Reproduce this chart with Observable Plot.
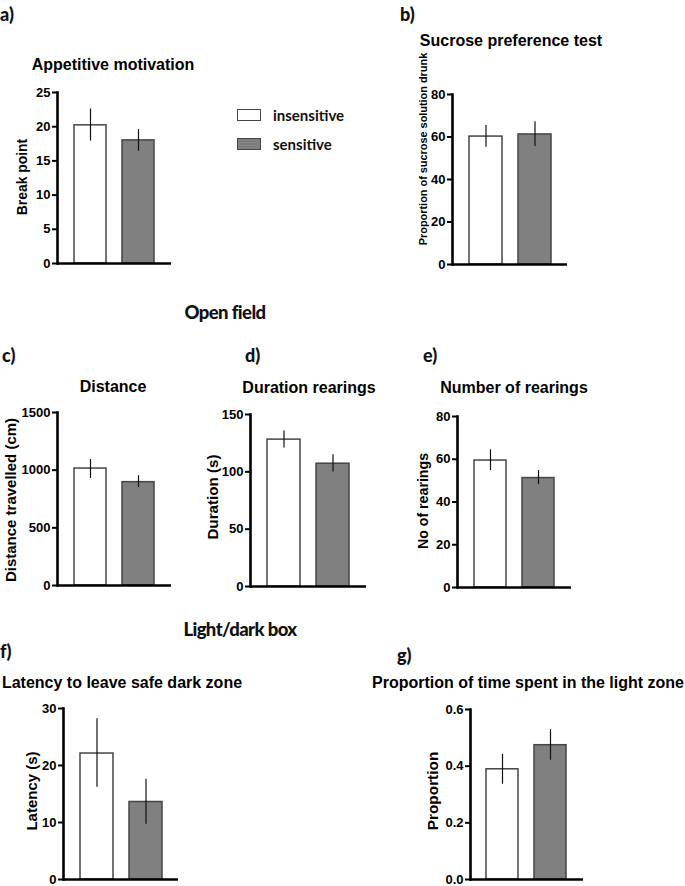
<!DOCTYPE html>
<html><head><meta charset="utf-8">
<script src="https://cdn.jsdelivr.net/npm/d3@7"></script>
<script src="https://cdn.jsdelivr.net/npm/@observablehq/plot@0.6"></script>
<style>
html,body{margin:0;padding:0;background:#fff;}
#fig{position:relative;width:685px;height:886px;overflow:hidden;font-family:"Liberation Sans",Arial,sans-serif;color:#000;}
#fig svg text{font-family:"Liberation Sans",Arial,sans-serif !important;font-weight:700 !important;font-size:13px !important;fill:#000;}
.abs{position:absolute;white-space:nowrap;line-height:1;}
.title{font-weight:bold;transform:translate(-50%,-50%);}
.ylab{font-weight:bold;transform:translate(-50%,-50%) rotate(-90deg);}
.cal{font-family:Lato,"Open Sans",sans-serif;font-weight:900;color:#111;}
.sw{position:absolute;box-sizing:border-box;border:1.5px solid #444;}
</style></head><body><div id="fig"></div>
<script>
// ---- data ----
const groups = ["insensitive", "sensitive"];
const groupFills = ["#ffffff", "#808080"];

const appetitiveMean = [20.2, 18.0];
const appetitiveLow  = [17.9, 16.4];
const appetitiveHigh = [22.6, 19.6];
const appetitiveTicks = [0, 5, 10, 15, 20, 25];

const sucroseMean = [60.2, 61.2];
const sucroseLow  = [55.2, 55.5];
const sucroseHigh = [65.4, 67.2];
const sucroseTicks = [0, 20, 40, 60, 80];

const distanceMean = [1014, 896];
const distanceLow  = [928, 850];
const distanceHigh = [1092, 952];
const distanceTicks = [0, 500, 1000, 1500];

const durationMean = [128.1, 107.1];
const durationLow  = [120.8, 99.8];
const durationHigh = [135.7, 115.0];
const durationTicks = [0, 50, 100, 150];

const rearingsMean = [59.4, 51.2];
const rearingsLow  = [54.7, 48.1];
const rearingsHigh = [64.4, 54.7];
const rearingsTicks = [0, 20, 40, 60, 80];

const latencyMean = [22.1, 13.6];
const latencyLow  = [16.2, 9.7];
const latencyHigh = [28.2, 17.6];
const latencyTicks = [0, 10, 20, 30];

const lightMean = [0.389, 0.474];
const lightLow  = [0.336, 0.421];
const lightHigh = [0.442, 0.529];
const lightTicks = [0, 0.2, 0.4, 0.6];

const panelLetters = ["a)", "b)", "c)", "d)", "e)", "f)", "g)"];
const panelTitles = ["Appetitive motivation", "Sucrose preference test", "Distance",
  "Duration rearings", "Number of rearings", "Latency to leave safe dark zone",
  "Proportion of time spent in the light zone"];
const yLabels = ["Break point", "Proportion of sucrose solution drunk", "Distance travelled (cm)",
  "Duration (s)", "No of rearings", "Latency (s)", "Proportion"];
const sectionHeadings = ["Open field", "Light/dark box"];

// ---- layout ----
const fig = document.getElementById("fig");
function addText(txt, cls, x, y, size, extra) {
  const d = document.createElement("div");
  d.className = "abs " + cls;
  d.textContent = txt;
  d.style.left = x + "px"; d.style.top = y + "px"; d.style.fontSize = size + "px";
  if (extra) Object.assign(d.style, extra);
  fig.appendChild(d);
  return d;
}

const intFmt = d3.format("d");
const panels = [
  {mean: appetitiveMean, low: appetitiveLow, high: appetitiveHigh, ticks: appetitiveTicks, fmt: intFmt,
   ax: 57, xe: 171, yt: 92, y0: 263,
   letter: [0, 5], title: [113, 65], ylab: [22.5, 177, 13.9]},
  {mean: sucroseMean, low: sucroseLow, high: sucroseHigh, ticks: sucroseTicks, fmt: intFmt,
   ax: 452, xe: 567, yt: 94, y0: 264,
   letter: [400, 5], title: [511, 41], ylab: [423, 149, 10.9]},
  {mean: distanceMean, low: distanceLow, high: distanceHigh, ticks: distanceTicks, fmt: intFmt,
   ax: 57, xe: 171, yt: 412, y0: 585,
   letter: [2, 346], title: [113, 387], ylab: [10, 500, 15]},
  {mean: durationMean, low: durationLow, high: durationHigh, ticks: durationTicks, fmt: intFmt,
   ax: 250, xe: 366, yt: 414, y0: 586,
   letter: [245, 346], title: [309, 388], ylab: [212.5, 497, 15.2]},
  {mean: rearingsMean, low: rearingsLow, high: rearingsHigh, ticks: rearingsTicks, fmt: intFmt,
   ax: 457, xe: 571, yt: 416, y0: 587,
   letter: [423, 346], title: [514, 388], ylab: [423, 501, 14.2]},
  {mean: latencyMean, low: latencyLow, high: latencyHigh, ticks: latencyTicks, fmt: intFmt,
   ax: 63, xe: 178, yt: 708, y0: 879,
   letter: [0, 642], title: [122, 683], ylab: [31, 791, 15]},
  {mean: lightMean, low: lightLow, high: lightHigh, ticks: lightTicks, fmt: d3.format(".1f"),
   ax: 470, xe: 583, yt: 709, y0: 879,
   letter: [397, 646], title: [528, 683], ylab: [432.5, 791, 15.4]}
];

const mL = 44, mR = 6, mT = 10, mB = 6;

panels.forEach((p, i) => {
  const data = groups.map((g, j) => ({group: g, mean: p.mean[j], low: p.low[j], high: p.high[j]}));
  const plot = Plot.plot({
    width: mL + (p.xe - p.ax) + mR,
    height: mT + (p.y0 - p.yt) + mB,
    marginLeft: mL, marginRight: mR, marginTop: mT, marginBottom: mB,
    style: {background: "transparent", overflow: "visible", color: "#000"},
    x: {domain: groups, padding: 0.33, axis: null},
    y: {domain: [0, p.ticks[p.ticks.length - 1]], axis: null},
    color: {domain: groups, range: groupFills},
    marks: [
      Plot.barY(data, {x: "group", y: "mean", fill: "group", stroke: "#454545", strokeWidth: 1.5}),
      Plot.ruleX(data, {x: "group", y1: "low", y2: "high", stroke: "#111", strokeWidth: 1.2}),
      Plot.axisY({ticks: p.ticks, tickFormat: p.fmt, tickSize: 5, tickPadding: 2, strokeWidth: 2,
                  label: null, fontSize: 13, fontWeight: "bold"}),
      Plot.frame({anchor: "left", stroke: "#000", strokeWidth: 2.6}),
      Plot.ruleY([0], {stroke: "#000", strokeWidth: 2.6})
    ]
  });
  plot.style.position = "absolute";
  plot.style.left = (p.ax - mL) + "px";
  plot.style.top = (p.yt - mT) + "px";
  fig.appendChild(plot);

  addText(panelLetters[i], "cal", p.letter[0], p.letter[1], 18);
  addText(panelTitles[i], "title", p.title[0], p.title[1], 16);
  addText(yLabels[i], "ylab", p.ylab[0], p.ylab[1], p.ylab[2]);
});

// section headings
addText(sectionHeadings[0], "cal", 225, 312, 18.5, {transform: "translate(-50%,-50%)", letterSpacing: "-0.6px"});
addText(sectionHeadings[1], "cal", 240, 629, 18.5, {transform: "translate(-50%,-50%)", letterSpacing: "-0.6px"});

// legend
groups.forEach((g, j) => {
  const sw = document.createElement("div");
  sw.className = "sw";
  Object.assign(sw.style, {left: "237px", top: (109 + j * 29) + "px", width: "24px", height: "12px",
    background: groupFills[j]});
  fig.appendChild(sw);
  addText(g, "cal", 273, 115 + j * 29, 15, {transform: "translateY(-50%)", fontWeight: "700"});
});
</script></body></html>
